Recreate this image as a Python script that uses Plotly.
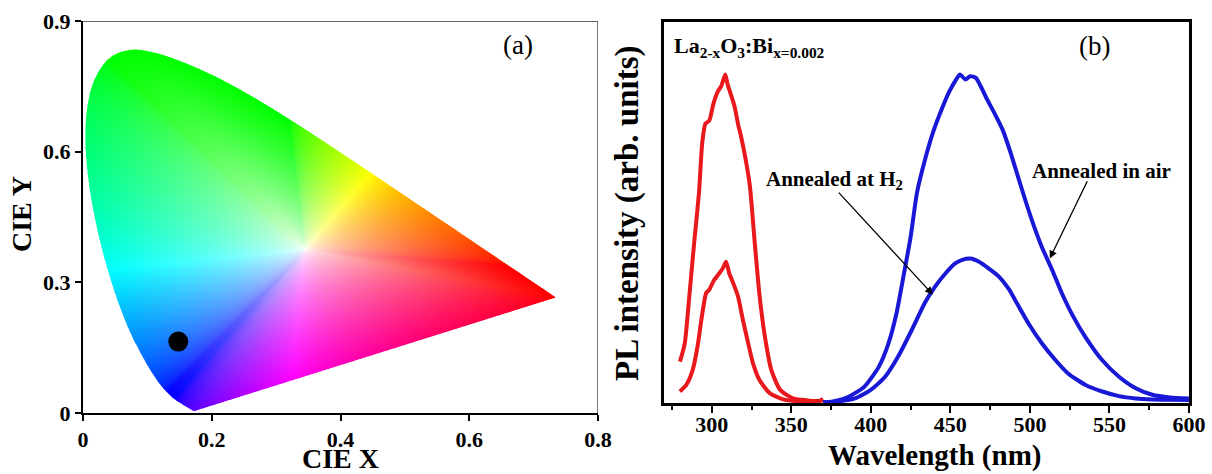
import base64
import struct
import zlib

import numpy as np
import plotly.graph_objects as go

# ---------------------------------------------------------------- data
# CIE 1931 2-degree spectral locus (chromaticity x, y)
locus_nm = [380, 400, 410, 420, 430, 440, 450, 460, 465, 470, 475, 480, 485,
            490, 495, 500, 505, 510, 515, 520, 525, 530, 535, 540, 545, 550,
            555, 560, 565, 570, 575, 580, 585, 590, 595, 600, 605, 610, 620,
            630, 640, 650, 660, 680, 700]
locus_x = [0.1741, 0.1733, 0.1726, 0.1714, 0.1689, 0.1644, 0.1566, 0.1440,
           0.1355, 0.1241, 0.1096, 0.0913, 0.0687, 0.0454, 0.0235, 0.0082,
           0.0039, 0.0139, 0.0389, 0.0743, 0.1142, 0.1547, 0.1929, 0.2296,
           0.2658, 0.3016, 0.3373, 0.3731, 0.4087, 0.4441, 0.4788, 0.5125,
           0.5448, 0.5752, 0.6029, 0.6270, 0.6482, 0.6658, 0.6915, 0.7079,
           0.7190, 0.7260, 0.7300, 0.7334, 0.7347]
locus_y = [0.0050, 0.0048, 0.0048, 0.0051, 0.0069, 0.0109, 0.0177, 0.0297,
           0.0399, 0.0578, 0.0868, 0.1327, 0.2007, 0.2950, 0.4127, 0.5384,
           0.6548, 0.7502, 0.8120, 0.8338, 0.8262, 0.8059, 0.7816, 0.7543,
           0.7243, 0.6923, 0.6589, 0.6245, 0.5896, 0.5547, 0.5202, 0.4866,
           0.4544, 0.4242, 0.3965, 0.3725, 0.3514, 0.3340, 0.3083, 0.2920,
           0.2809, 0.2740, 0.2700, 0.2666, 0.2653]
white_point = (0.345, 0.375)

# chromaticity coordinates of the phosphor emission
cie_point_x = [0.148]
cie_point_y = [0.164]

# excitation spectra (nm, normalised intensity)
exc_air_nm = [280, 283, 286, 289, 292, 294, 296, 298.5, 301, 304, 306, 308.5,
              310, 312, 314.5, 316.5, 318.5, 321, 324, 327, 330, 333.5, 337.5,
              343, 351, 360, 368, 370]
exc_air = [0.126, 0.18, 0.33, 0.49, 0.64, 0.79, 0.85, 0.86, 0.91, 0.95, 0.965,
           1.0, 0.97, 0.94, 0.90, 0.85, 0.81, 0.75, 0.66, 0.49, 0.33, 0.20,
           0.10, 0.04, 0.014, 0.008, 0.007, 0.012]
exc_h2_nm = [280, 284, 288, 291, 294, 296.5, 298.5, 301, 304, 307, 309, 311,
             313.5, 316.5, 319.5, 323, 326, 330, 336.5, 345, 355, 365, 370]
exc_h2 = [0.035, 0.055, 0.10, 0.17, 0.27, 0.335, 0.345, 0.37, 0.39, 0.41,
          0.43, 0.395, 0.365, 0.325, 0.255, 0.18, 0.12, 0.07, 0.03, 0.011,
          0.005, 0.004, 0.008]

# emission spectra (nm, normalised intensity)
em_air_nm = [370, 376, 386, 396, 405, 411, 416, 420.5, 425, 429, 434, 439.5,
             445, 449, 453, 456, 459.5, 462.5, 466, 469, 473, 478.5, 483, 488,
             495, 501, 507.5, 514, 520, 526.5, 535, 545.5, 556, 566.5, 577,
             588, 600]
em_air = [0.002, 0.005, 0.019, 0.05, 0.11, 0.18, 0.27, 0.385, 0.505, 0.64,
          0.74, 0.83, 0.90, 0.945, 0.98, 1.0, 0.985, 0.995, 0.99, 0.965, 0.925,
          0.875, 0.83, 0.76, 0.65, 0.56, 0.475, 0.405, 0.335, 0.27, 0.20, 0.13,
          0.08, 0.045, 0.025, 0.017, 0.014]
em_h2_nm = [370, 378, 390, 400, 409, 417, 425.5, 434, 440.5, 447, 453, 457.5,
            462.5, 468, 474, 480.5, 487, 490.5, 499, 507.5, 516, 524, 535,
            545.5, 556, 566.5, 577, 588, 600]
em_h2 = [0.002, 0.004, 0.014, 0.04, 0.08, 0.14, 0.22, 0.305, 0.355, 0.395,
         0.425, 0.436, 0.44, 0.43, 0.41, 0.385, 0.345, 0.315, 0.243, 0.182,
         0.131, 0.09, 0.055, 0.035, 0.021, 0.014, 0.011, 0.010, 0.009]

cie_x_ticks = [0, 0.2, 0.4, 0.6, 0.8]
cie_y_ticks = [0, 0.3, 0.6, 0.9]
wl_ticks = [300, 350, 400, 450, 500, 550, 600]

# ---------------------------------------------------------------- style
SERIF = "Liberation Serif"
RED = "rgb(232,24,28)"
BLUE = "rgb(24,24,214)"
W, H = 1212, 474


def px(x):
    return x / W


def py(y):
    return 1 - y / H


# ---------------------------------------------------------------- chromaticity image
def smooth_outline(xs, ys, n=8):
    """Catmull-Rom outline through the locus points, closed by the purple line."""
    P = np.column_stack([xs, ys])
    out = []
    for i in range(len(P) - 1):
        p0, p1 = P[max(i - 1, 0)], P[i]
        p2, p3 = P[i + 1], P[min(i + 2, len(P) - 1)]
        for t in np.linspace(0, 1, n, endpoint=False):
            out.append(0.5 * (2 * p1 + (-p0 + p2) * t
                              + (2 * p0 - 5 * p1 + 4 * p2 - p3) * t * t
                              + (-p0 + 3 * p1 - 3 * p2 + p3) * t ** 3))
    out.append(P[-1])
    out.append(P[0])
    return np.array(out)


def xy_to_rgb(cx, cy, gamma=1 / 1.8):
    cy = np.maximum(cy, 1e-4)
    X, Y, Z = cx / cy, np.ones_like(cx), (1 - cx - cy) / cy
    r = 3.2406 * X - 1.5372 * Y - 0.4986 * Z
    g = -0.9689 * X + 1.8758 * Y + 0.0415 * Z
    b = 0.0557 * X - 0.2040 * Y + 1.0570 * Z
    rgb = np.clip(np.stack([r, g, b], axis=-1), 0, None)
    rgb /= np.maximum(rgb.max(axis=-1, keepdims=True), 1e-9)
    return np.power(rgb, gamma)


def chromaticity_png(xr, yr, nx, ny):
    poly = smooth_outline(locus_x, locus_y)
    wx, wy = white_point

    # boundary point and its colour for every direction out of the white point
    nang = 7200
    ang = np.linspace(-np.pi, np.pi, nang, endpoint=False)
    dx, dy = np.cos(ang), np.sin(ang)
    best = np.full(nang, np.inf)
    for a, b in zip(poly[:-1], poly[1:]):
        ex, ey = b[0] - a[0], b[1] - a[1]
        den = dx * ey - dy * ex
        ok = np.abs(den) > 1e-12
        den = np.where(ok, den, 1.0)
        qx, qy = a[0] - wx, a[1] - wy
        s = (qx * ey - qy * ex) / den
        u = (qx * dy - qy * dx) / den
        hit = ok & (s > 0) & (u >= 0) & (u <= 1)
        best = np.where(hit & (s < best), s, best)
    bx, by = wx + best * dx, wy + best * dy
    edge_rgb = xy_to_rgb(bx, by)

    xs = xr[0] + (np.arange(nx) + 0.5) / nx * (xr[1] - xr[0])
    ys = yr[1] - (np.arange(ny) + 0.5) / ny * (yr[1] - yr[0])
    gx, gy = np.meshgrid(xs, ys)

    inside = np.zeros(gx.shape, dtype=bool)
    for a, b in zip(poly[:-1], poly[1:]):
        cond = (a[1] > gy) != (b[1] > gy)
        with np.errstate(divide="ignore", invalid="ignore"):
            xint = a[0] + (gy - a[1]) * (b[0] - a[0]) / (b[1] - a[1])
        inside ^= cond & (gx < xint)

    theta = np.arctan2(gy - wy, gx - wx)
    k = np.round((theta + np.pi) / (2 * np.pi) * nang).astype(int) % nang
    rad = np.hypot(gx - wx, gy - wy)
    t = np.clip(rad / best[k], 0, 1) ** 0.62
    col = 1 - t[..., None] * (1 - edge_rgb[k])

    rgba = np.zeros((ny, nx, 4), dtype=np.uint8)
    rgba[..., :3] = np.clip(col * 255, 0, 255).astype(np.uint8)
    rgba[..., 3] = np.where(inside, 255, 0).astype(np.uint8)

    raw = b"".join(b"\x00" + row.tobytes() for row in rgba)

    def chunk(tag, data):
        c = struct.pack(">I", len(data)) + tag + data
        return c + struct.pack(">I", zlib.crc32(tag + data) & 0xFFFFFFFF)

    png = (b"\x89PNG\r\n\x1a\n"
           + chunk(b"IHDR", struct.pack(">IIBBBBB", nx, ny, 8, 6, 0, 0, 0))
           + chunk(b"IDAT", zlib.compress(raw, 9))
           + chunk(b"IEND", b""))
    return "data:image/png;base64," + base64.b64encode(png).decode()


cie_img = chromaticity_png((0, 0.8), (0, 0.9), 1030, 784)

# ---------------------------------------------------------------- figure
fig = go.Figure()

fig.add_trace(go.Scatter(
    x=cie_point_x, y=cie_point_y, mode="markers",
    marker=dict(color="black", size=20), xaxis="x", yaxis="y",
    showlegend=False))

for xs, ys, col in [(exc_air_nm, exc_air, RED), (exc_h2_nm, exc_h2, RED),
                    (em_air_nm, em_air, BLUE), (em_h2_nm, em_h2, BLUE)]:
    fig.add_trace(go.Scatter(
        x=xs, y=ys, mode="lines", xaxis="x2", yaxis="y2",
        line=dict(color=col, width=4, shape="spline", smoothing=0.6),
        showlegend=False))

tickfont = dict(family=SERIF, size=22, color="black", weight="bold")
common = dict(showgrid=False, zeroline=False, showline=True, linecolor="black",
              ticks="outside", tickcolor="black", tickwidth=2,
              tickfont=tickfont)

fig.update_layout(
    width=W, height=H,
    margin=dict(l=0, r=0, t=0, b=0, pad=0, autoexpand=False),
    paper_bgcolor="white", plot_bgcolor="rgba(0,0,0,0)",
    xaxis=dict(domain=[px(83), px(598)], range=[0, 0.8], anchor="y",
               tickvals=cie_x_ticks, ticktext=[f"{v:g}" for v in cie_x_ticks],
               ticklen=6, linewidth=2, **common),
    yaxis=dict(domain=[py(413), py(21)], range=[0, 0.9], anchor="x",
               tickvals=cie_y_ticks, ticktext=[f"{v:g}" for v in cie_y_ticks],
               ticklen=6, linewidth=2, **common),
    xaxis2=dict(domain=[px(664), px(1189)], range=[270, 600], anchor="y2",
                tickvals=wl_ticks, ticklen=7, linewidth=2.5, mirror=True,
                ticklabelstandoff=-7,
                minor=dict(dtick=25, tick0=275, ticks="outside", ticklen=4,
                           tickwidth=2, tickcolor="black"),
                **common),
    yaxis2=dict(domain=[py(403), py(22)], range=[0, 1.16], anchor="x2",
                showgrid=False, zeroline=False, showline=True,
                linecolor="black", linewidth=2.5, mirror=True, ticks="",
                showticklabels=False),
    images=[dict(source=cie_img, xref="x", yref="y", x=0, y=0.9,
                 sizex=0.8, sizey=0.9, sizing="stretch", layer="below")],
    shapes=[
        dict(type="line", xref="x", yref="y", x0=0, x1=0.8, y0=0.9, y1=0.9,
             line=dict(color="#333", width=1.3)),
        dict(type="line", xref="x", yref="y", x0=0.8, x1=0.8, y0=0, y1=0.9,
             line=dict(color="#333", width=1.3)),
    ],
)


def serif(size, bold=True):
    f = dict(family=SERIF, size=size, color="black")
    if bold:
        f["weight"] = "bold"
    return f


annotations = [
    dict(text="(a)", x=px(518), y=py(45), font=serif(27, False)),
    dict(text="(b)", x=px(1094), y=py(46), font=serif(27, False)),
    dict(text="CIE X", x=px(340), y=py(458), font=serif(28)),
    dict(text="CIE Y", x=px(21), y=py(214), font=serif(28), textangle=-90),
    dict(text="Wavelength (nm)", x=px(934), y=py(455), font=serif(29)),
    dict(text="PL intensity (arb. units)", x=px(628), y=py(213),
         font=serif(33), textangle=-90),
]
for a in annotations:
    a.update(xref="paper", yref="paper", showarrow=False,
             xanchor="center", yanchor="middle")
    fig.add_annotation(**a)

note_font = serif(21)
fig.add_annotation(text="La<sub>2-x</sub>O<sub>3</sub>:Bi<sub>x=0.002</sub>",
                   x=275, y=1.085, xref="x2", yref="y2", xanchor="left",
                   yanchor="middle", showarrow=False, font=serif(22))
fig.add_annotation(text="Annealed at H<sub>2</sub>", x=377, y=0.68,
                   xref="x2", yref="y2", showarrow=False, font=note_font)
fig.add_annotation(text="Annealed in air", x=545, y=0.705,
                   xref="x2", yref="y2", showarrow=False, font=note_font)

# arrows pointing at the two emission curves
for tail, head in [((379, 0.645), (439, 0.33)), ((536.5, 0.68), (512.5, 0.44))]:
    fig.add_annotation(text="", x=head[0], y=head[1], ax=tail[0], ay=tail[1],
                       xref="x2", yref="y2", axref="x2", ayref="y2",
                       showarrow=True, arrowhead=2, arrowsize=1.2,
                       arrowwidth=1.3, arrowcolor="black", standoff=0)

fig.write_html("out.html")
